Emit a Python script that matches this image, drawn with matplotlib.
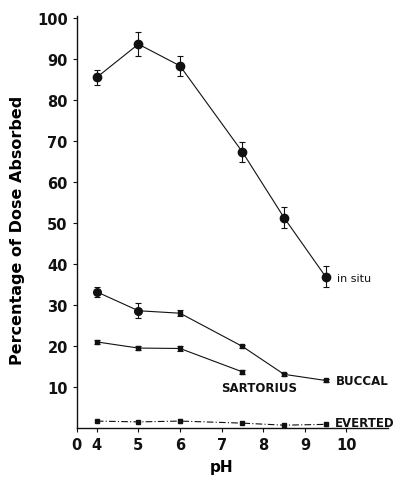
import matplotlib
matplotlib.use("Agg")
import matplotlib.pyplot as plt

ph = [4, 5, 6, 7.5, 8.5, 9.5]
insitu = [85.5, 93.6, 88.3, 67.3, 51.3, 36.9]
insitu_err = [1.8, 2.9, 2.5, 2.4, 2.5, 2.5]
buccal = [33.2, 28.6, 28.0, 19.9, 13.1, 11.6]
buccal_err = [1.3, 1.8, 0.7, 0.4, 0.4, 0.4]
ph_sart = [4, 5, 6, 7.5]
sartorius = [21.0, 19.5, 19.4, 13.7]
sartorius_err = [0.5, 0.5, 0.6, 0.5]
everted = [1.7, 1.5, 1.7, 1.2, 0.7, 0.9]
everted_err = [0.3, 0.3, 0.4, 0.3, 0.3, 0.3]

xticks = [3.52, 4, 5, 6, 7, 8, 9, 10]
xticklabels = ["0", "4", "5", "6", "7", "8", "9", "10"]
yticks = [10, 20, 30, 40, 50, 60, 70, 80, 90, 100]

fig = plt.figure(figsize=(3.98, 4.81), dpi=100)
ax = fig.add_axes([0.193, 0.108, 0.782, 0.857])

c = "#111111"
ax.errorbar(ph, insitu, yerr=insitu_err, color=c, lw=0.8, marker="o", ms=6,
            capsize=2, elinewidth=0.8, capthick=0.8)
ax.errorbar(ph, buccal, yerr=buccal_err, color=c, lw=0.8, marker="s", ms=3.5,
            capsize=2, elinewidth=0.8, capthick=0.8)
ax.plot(ph[:2], buccal[:2], "o", color=c, ms=5.5, ls="none")
ax.errorbar(ph_sart, sartorius, yerr=sartorius_err, color=c, lw=0.8, marker="s", ms=3.5,
            capsize=2, elinewidth=0.8, capthick=0.8)
ax.errorbar(ph, everted, yerr=everted_err, color=c, lw=0.8, marker="s", ms=3,
            ls=(0, (6, 2, 1, 2)), capsize=1.5, elinewidth=0.8, capthick=0.8)

fs = 10.5
ax.text(9.78, 36.5, "in situ", fontsize=8, va="center", ha="left", color=c)
ax.text(9.75, 11.6, "BUCCAL", fontsize=8.5, fontweight="bold", va="center", ha="left", color=c)
ax.text(7.9, 10.0, "SARTORIUS", fontsize=8.5, fontweight="bold", va="center", ha="center", color=c)
ax.text(9.73, 1.3, "EVERTED", fontsize=8.5, fontweight="bold", va="center", ha="left", color=c)

ax.set_xlim(3.52, 11.0)
ax.set_ylim(0, 100.5)
ax.set_xticks(xticks)
ax.set_xticklabels(xticklabels, fontsize=fs, fontweight="bold")
ax.set_yticks(yticks)
ax.set_yticklabels([str(v) for v in yticks], fontsize=fs, fontweight="bold")
ax.tick_params(length=3, width=0.8, direction="out", colors=c)
for s in ["top", "right"]:
    ax.spines[s].set_visible(False)
for s in ["left", "bottom"]:
    ax.spines[s].set_linewidth(1.0)
    ax.spines[s].set_color(c)

ax.set_ylabel("Percentage of Dose Absorbed", fontsize=11.5, fontweight="bold")
ax.yaxis.set_label_coords(-0.165, 0.483)
ax.set_xlabel("pH", fontsize=11, fontweight="bold")
ax.xaxis.set_label_coords((7 - 3.52) / (11.0 - 3.52), -0.075)

fig.savefig("out.png", dpi=100)
